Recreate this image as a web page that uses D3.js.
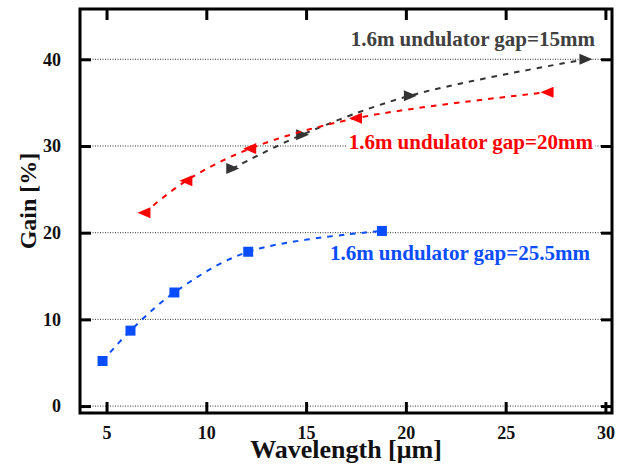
<!DOCTYPE html>
<html>
<head>
<meta charset="utf-8">
<script src="https://cdn.jsdelivr.net/npm/d3@7"></script>
<style>
  body { margin: 0; background: #fff; }
  text { font-family: "Liberation Serif", "Times New Roman", serif; font-weight: bold; }
</style>
</head>
<body>
<svg id="chart"></svg>
<script>
// data
var gap15X = [11.3, 14.8, 20.2, 29.0]
var gap15Y = [27.4, 31.3, 35.8, 40.0]
var gap20X = [6.9, 9.0, 12.2, 17.5, 27.1]
var gap20Y = [22.3, 26.0, 29.7, 33.2, 36.2]
var gap255X = [4.8, 6.2, 8.4, 12.1, 18.8]
var gap255Y = [5.2, 8.7, 13.1, 17.8, 20.2]
var xTicks = [5, 10, 15, 20, 25, 30]
var yTicks = [0, 10, 20, 30, 40]
var seriesNames = ["1.6m undulator gap=15mm", "1.6m undulator gap=20mm", "1.6m undulator gap=25.5mm"]

var width = 619, height = 474
var margin = {top: 9, right: 7, bottom: 61, left: 80}
var w = width - margin.left - margin.right
var h = height - margin.top - margin.bottom

var svg = d3.select("#chart")
    .attr("width", width)
    .attr("height", height)
var g = svg.append("g")
    .attr("transform", "translate(" + margin.left + "," + margin.top + ")")

var x = d3.scaleLinear().domain([3.67, 30.33]).range([0, w])
var y = d3.scaleLinear().domain([-0.8, 45.8]).range([h, 0])

// grid
g.append("g").selectAll("line")
    .data(yTicks)
    .enter().append("line")
    .attr("x1", 0).attr("x2", w)
    .attr("y1", d => y(d)).attr("y2", d => y(d))
    .attr("stroke", "#333")
    .attr("stroke-width", 1)
    .attr("stroke-dasharray", "1,1.5")

// axes (ticks inward on all four sides)
function styleAxis(sel) {
    sel.select(".domain").remove()
    sel.selectAll(".tick line").attr("stroke", "#000").attr("stroke-width", 3)
    sel.selectAll(".tick text")
        .attr("fill", "#111")
        .style("font-size", "18px")
        .style("font-family", "Liberation Serif, serif")
        .style("font-weight", "bold")
}

g.append("g")
    .attr("transform", "translate(0," + h + ")")
    .call(d3.axisBottom(x).tickValues(xTicks).tickSizeInner(-11).tickPadding(13))
    .call(styleAxis)
g.append("g")
    .call(d3.axisTop(x).tickValues(xTicks).tickSizeInner(-11).tickFormat(""))
    .call(styleAxis)
g.append("g")
    .call(d3.axisLeft(y).tickValues(yTicks).tickSizeInner(-11).tickPadding(19))
    .call(styleAxis)
g.append("g")
    .attr("transform", "translate(" + w + ",0)")
    .call(d3.axisRight(y).tickValues(yTicks).tickSizeInner(-11).tickFormat(""))
    .call(styleAxis)

g.append("rect")
    .attr("x", 0).attr("y", 0)
    .attr("width", w).attr("height", h)
    .attr("fill", "none")
    .attr("stroke", "#000")
    .attr("stroke-width", 3)

// series
var series = [
    {xs: gap15X, ys: gap15Y, color: "#333333", sym: "right"},
    {xs: gap20X, ys: gap20Y, color: "#ff0000", sym: "left"},
    {xs: gap255X, ys: gap255Y, color: "#0a4dff", sym: "square"}
]

var line = d3.line()
    .x(d => x(d[0]))
    .y(d => y(d[1]))
    .curve(d3.curveCatmullRom.alpha(0.5))

var markerPath = {
    right: "M-6,-5.5L7,0L-6,5.5Z",
    left: "M6,-5.5L-7,0L6,5.5Z",
    square: "M-5,-5H5V5H-5Z"
}

series.forEach(function(s) {
    var pts = s.xs.map((v, i) => [v, s.ys[i]])
    g.append("path")
        .datum(pts)
        .attr("d", line)
        .attr("fill", "none")
        .attr("stroke", s.color)
        .attr("stroke-width", 2)
        .attr("stroke-dasharray", "5.5,6")
    g.append("g").selectAll("path")
        .data(pts)
        .enter().append("path")
        .attr("d", markerPath[s.sym])
        .attr("transform", d => "translate(" + x(d[0]) + "," + y(d[1]) + ")")
        .attr("fill", s.color)
})

// series labels
var labels = [
    {text: seriesNames[0], x: 595, y: 46, color: "#404040", bg: false},
    {text: seriesNames[1], x: 593, y: 149, color: "#ff0000", bg: true},
    {text: seriesNames[2], x: 590, y: 260, color: "#0a4dff", bg: false}
]
labels.forEach(function(l) {
    var t = svg.append("text")
        .attr("x", l.x).attr("y", l.y)
        .attr("text-anchor", "end")
        .attr("fill", l.color)
        .style("font-size", "21px")
        .text(l.text)
    if (l.bg) {
        var bb = t.node().getBBox()
        svg.insert("rect", function() { return t.node() })
            .attr("x", bb.x - 2).attr("y", bb.y + 3)
            .attr("width", bb.width + 4).attr("height", bb.height - 6)
            .attr("fill", "#fff")
    }
})

// axis titles
svg.append("text")
    .attr("x", margin.left + w / 2)
    .attr("y", 458)
    .attr("text-anchor", "middle")
    .attr("fill", "#111")
    .style("font-size", "26px")
    .text("Wavelength [\u03bcm]")

svg.append("text")
    .attr("transform", "translate(36,201) rotate(-90)")
    .attr("text-anchor", "middle")
    .attr("fill", "#111")
    .style("font-size", "24px")
    .text("Gain [%]")
</script>
</body>
</html>
